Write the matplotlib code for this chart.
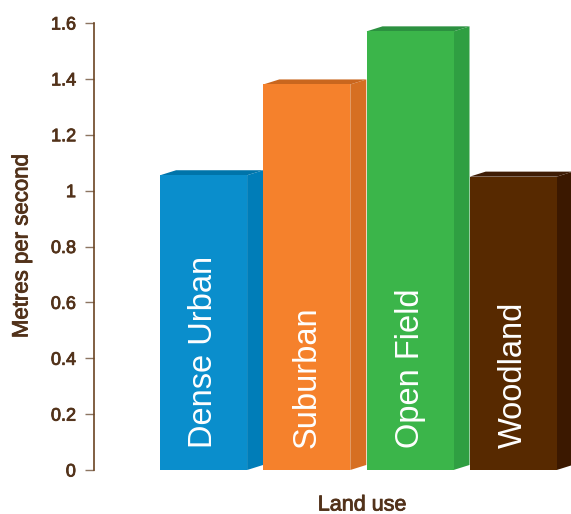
import matplotlib
matplotlib.use("Agg")
import matplotlib.pyplot as plt
from matplotlib.patches import Polygon
import matplotlib.patheffects as pe

categories = ["Dense Urban", "Suburban", "Open Field", "Woodland"]
values = [1.055, 1.38, 1.57, 1.05]
front_colors = ["#0A8ECC", "#F5812C", "#3BB54A", "#572900"]
side_colors = ["#007DB8", "#D66F22", "#2F9F42", "#3B1800"]
top_colors = ["#0074AA", "#C9661E", "#2C9140", "#3E1C05"]
yticks = [0, 0.2, 0.4, 0.6, 0.8, 1.0, 1.2, 1.4, 1.6]
yticklabels = ["0", "0.2", "0.4", "0.6", "0.8", "1", "1.2", "1.4", "1.6"]

plt.rcParams['font.family'] = ['Liberation Sans', 'DejaVu Sans']
text_color = "#52321A"
spine_color = "#6B4422"
heavy = [pe.withStroke(linewidth=0.6, foreground=text_color)]

W, H = 571, 514
fig = plt.figure(figsize=(W / 100, H / 100), dpi=100)
ax = fig.add_axes([94 / W, 44 / H, (W - 94) / W, 447 / H])

width = 0.843
dx = 0.155
dy = 0.018
x = list(range(len(categories)))

ax.bar(x, values, width=width, color=front_colors, edgecolor="none", zorder=3, clip_on=False)
for xi, v, sc, tc, lab in zip(x, values, side_colors, top_colors, categories):
    r = xi + width / 2
    l = xi - width / 2
    side = Polygon([(r, 0), (r + dx, dy), (r + dx, v + dy), (r, v)], closed=True,
                   facecolor=sc, edgecolor="none", zorder=2, clip_on=False)
    top = Polygon([(l, v), (l + dx, v + dy), (r + dx, v + dy), (r, v)], closed=True,
                  facecolor=tc, edgecolor="none", zorder=2, clip_on=False)
    ax.add_patch(side)
    ax.add_patch(top)
    ax.text(xi, 0.08, lab, rotation=90, ha="center", va="bottom", color="white",
            fontsize=23.5, zorder=4)

ax.set_xlim(-1.062, 3.56)
ax.set_ylim(0, 1.6)
for s in ["top", "right", "bottom"]:
    ax.spines[s].set_visible(False)
ax.spines["left"].set_color(spine_color)
ax.spines["left"].set_linewidth(1.2)
ax.set_xticks([])
ax.set_yticks(yticks)
ax.set_yticklabels(yticklabels)
ax.tick_params(axis="y", direction="out", length=6.5, width=1, color="#8C7561",
               pad=6.5, labelsize=13, labelcolor=text_color)
for t in ax.get_yticklabels():
    t.set_path_effects(heavy)

fig.text(22 / W, 1 - 246 / H, "Metres per second", rotation=90, ha="center", va="center",
         fontsize=16, color=text_color, path_effects=heavy)
fig.text(362 / W, 1 - 505 / H, "Land use", ha="center", va="center",
         fontsize=15.5, color=text_color, path_effects=heavy)

fig.savefig("out.png", dpi=100)
